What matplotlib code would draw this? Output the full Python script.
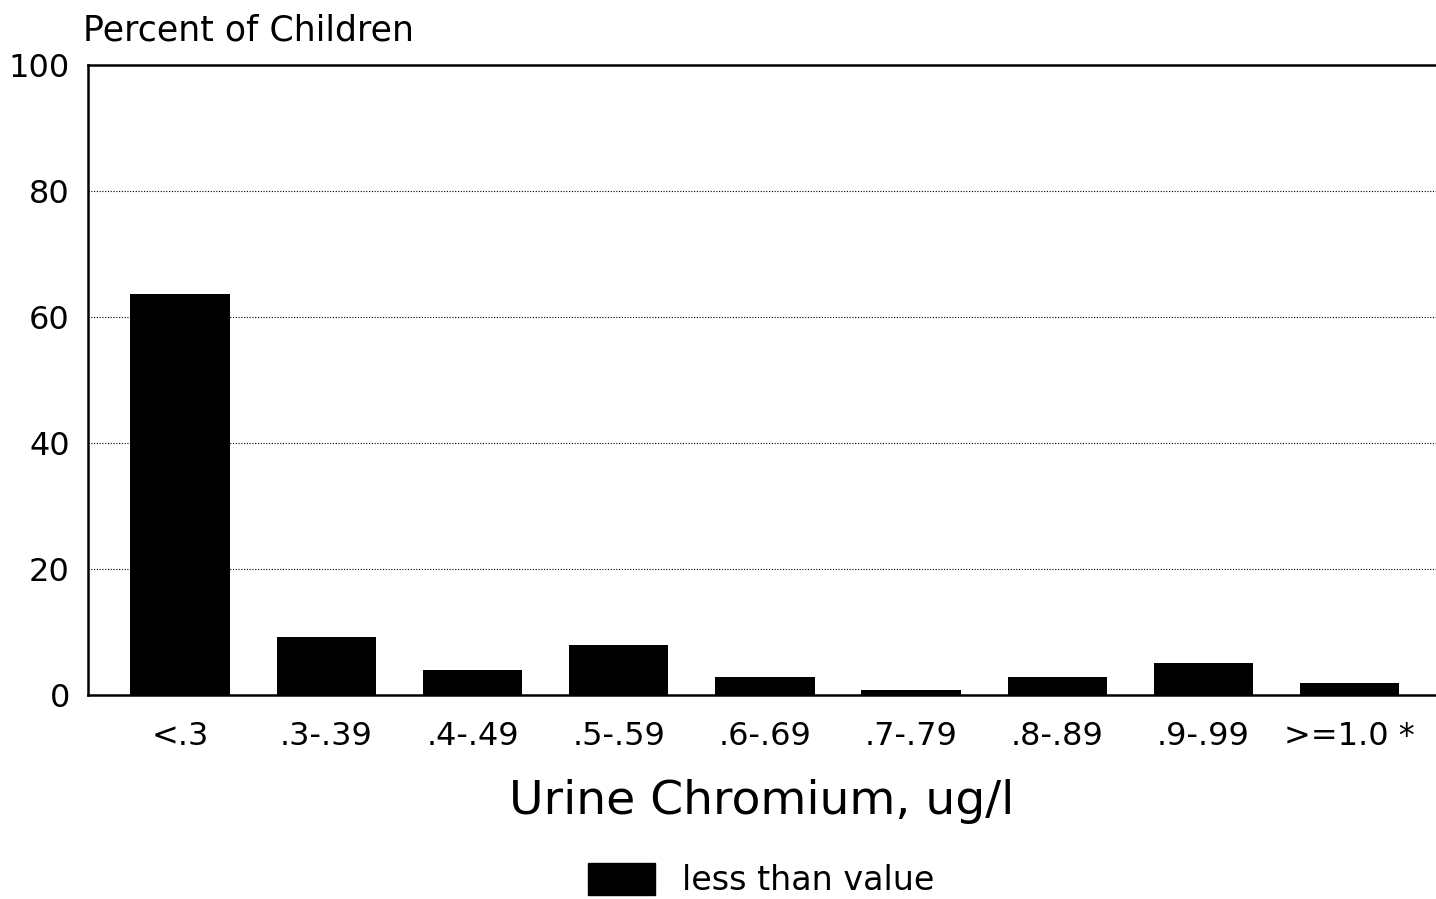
import matplotlib.pyplot as plt
from matplotlib.patches import Patch

categories = ["<.3", ".3-.39", ".4-.49", ".5-.59", ".6-.69", ".7-.79", ".8-.89", ".9-.99", ">=1.0 *"]
percent = [63.6, 9.2, 3.9, 7.9, 2.9, 0.8, 2.9, 5.1, 1.9]

plt.rcParams['font.family'] = ['DejaVu Sans']

fig = plt.figure(figsize=(14.36, 8.99), dpi=100)
ax = fig.add_axes([0.0613, 0.2269, 0.9387, 0.7008])

x = range(len(categories))
ax.bar(x, percent, width=0.68, color="black", zorder=3)

ax.set_xlim(-0.63, 8.59)
ax.set_ylim(0, 100)
ax.set_yticks([0, 20, 40, 60, 80, 100])
ax.set_yticklabels(["0", "20", "40", "60", "80", "100"], fontsize=23)
ax.set_xticks(list(x))
ax.set_xticklabels(categories, fontsize=23)
ax.tick_params(axis="both", length=0)
ax.tick_params(axis="y", pad=13)
ax.tick_params(axis="x", pad=19)

for y in [20, 40, 60, 80]:
    ax.axhline(y, color="black", linestyle=(0, (1, 1.5)), linewidth=0.8, zorder=1)

for s in ["left", "top", "bottom"]:
    ax.spines[s].set_linewidth(1.8)
ax.spines["right"].set_visible(False)

ax.set_xlabel("Urine Chromium, ug/l", fontsize=34, labelpad=19)
fig.text(0.058, 0.966, "Percent of Children", fontsize=25, va="center", ha="left")

fig.legend(handles=[Patch(color="black", label="less than value")],
           loc="center", bbox_to_anchor=(0.53, 0.021), frameon=False,
           fontsize=24, handlelength=2.0, handleheight=1.1, handletextpad=0.8)

fig.savefig("out.png", dpi=100)
